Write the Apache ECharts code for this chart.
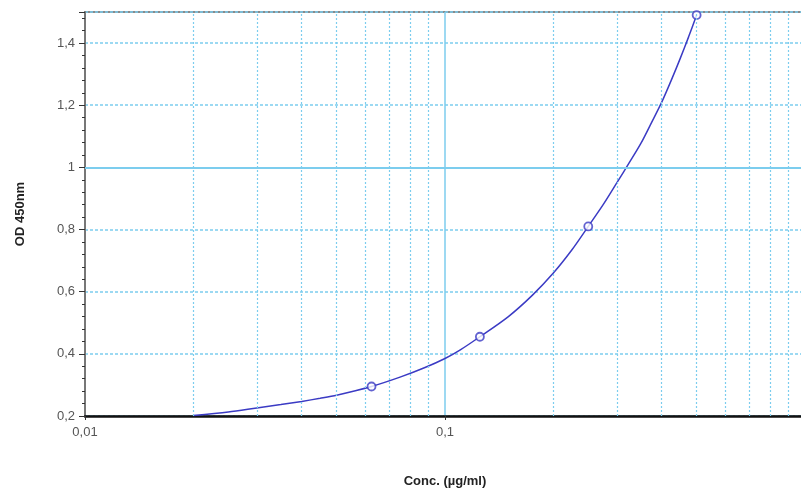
<!DOCTYPE html>
<html>
<head>
<meta charset="utf-8">
<script src="https://cdn.jsdelivr.net/npm/echarts@6/dist/echarts.min.js"></script>
<style>
  html, body { margin: 0; padding: 0; background: #fff; }
  #chart { width: 801px; height: 490px; }
</style>
</head>
<body>
<div id="chart"></div>
<script>
// standard points (conc, OD)
const conc = [0.0625, 0.125, 0.25, 0.5];
const od = [0.295, 0.455, 0.81, 1.49];

// fitted curve
const curveConc = [0.02, 0.025, 0.03, 0.035, 0.04, 0.045, 0.05, 0.0625, 0.075, 0.088, 0.1, 0.11, 0.125, 0.15, 0.175, 0.2, 0.225, 0.25, 0.275, 0.3, 0.325, 0.35, 0.375, 0.4, 0.425, 0.45, 0.475, 0.5];
const curveOd = [0.202, 0.213, 0.226, 0.237, 0.247, 0.257, 0.267, 0.295, 0.325, 0.356, 0.385, 0.412, 0.455, 0.52, 0.589, 0.66, 0.734, 0.81, 0.88, 0.95, 1.015, 1.077, 1.145, 1.21, 1.28, 1.35, 1.42, 1.49];

// minor vertical grid lines (log axis)
const xMinor = [0.02, 0.03, 0.04, 0.05, 0.06, 0.07, 0.08, 0.09, 0.2, 0.3, 0.4, 0.5, 0.6, 0.7, 0.8, 0.9];
const yStrong = [1];

const gridBlue = '#7ccdee';
const lineBlue = '#3b3bc4';

const chart = echarts.init(document.getElementById('chart'));

const comma = v => String(+v.toFixed(2)).replace('.', ',');

chart.setOption({
  animation: false,
  grid: {
    left: 85, right: -4, top: 12, bottom: 74,
    outerBoundsMode: 'none', containLabel: false,
    show: true, borderColor: '#8a8a8a', borderWidth: 2
  },
  xAxis: {
    type: 'log', logBase: 10, min: 0.01, max: 1,
    name: 'Conc. (µg/ml)', nameLocation: 'middle', nameGap: 59,
    nameTextStyle: { fontFamily: 'Arial', fontWeight: 'bold', fontSize: 13, color: '#222' },
    axisLine: { lineStyle: { color: '#111', width: 2.5 } },
    axisTick: { show: true, length: 4, lineStyle: { color: '#333' } },
    axisLabel: { formatter: comma, fontFamily: 'Arial', fontSize: 13, color: '#555', margin: 10, showMaxLabel: true, hideOverlap: false },
    splitLine: { show: true, lineStyle: { color: gridBlue, width: 1.5, type: 'solid' } }
  },
  yAxis: {
    type: 'value', min: 0.2, max: 1.5, interval: 0.2,
    name: 'OD 450nm', nameLocation: 'middle', nameGap: 58,
    nameTextStyle: { fontFamily: 'Arial', fontWeight: 'bold', fontSize: 13, color: '#222' },
    axisLine: { show: true, lineStyle: { color: '#777', width: 2 } },
    axisTick: { show: true, length: 6, lineStyle: { color: '#333' } },
    minorTick: { show: true, splitNumber: 5, length: 3, lineStyle: { color: '#333' } },
    axisLabel: {
      formatter: v => v > 1.45 ? '' : comma(v),
      fontFamily: 'Arial', fontSize: 13, color: '#555', margin: 10
    },
    splitLine: { show: true, lineStyle: { color: gridBlue, width: 1.5, type: [3, 2] } }
  },
  series: [
    {
      // grid helper lines only
      type: 'line',
      data: [],
      z: 1,
      markLine: {
        silent: true,
        symbol: 'none',
        label: { show: false },
        lineStyle: { color: gridBlue, width: 1.2, type: [2, 2] },
        data: xMinor.map(x => ({ xAxis: x }))
          .concat(yStrong.map(y => ({ yAxis: y, lineStyle: { type: 'solid', width: 2 } })))
      }
    },
    {
      type: 'line',
      data: curveConc.map((c, i) => [c, curveOd[i]]),
      smooth: 0.3,
      showSymbol: false,
      lineStyle: { color: lineBlue, width: 1.5 },
      z: 3
    },
    {
      type: 'scatter',
      data: conc.map((c, i) => [c, od[i]]),
      symbol: 'circle',
      symbolSize: 8,
      itemStyle: { color: '#fff', borderColor: lineBlue, borderWidth: 1.8 },
      z: 4
    }
  ]
});

window.addEventListener('resize', () => chart.resize());
</script>
</body>
</html>
